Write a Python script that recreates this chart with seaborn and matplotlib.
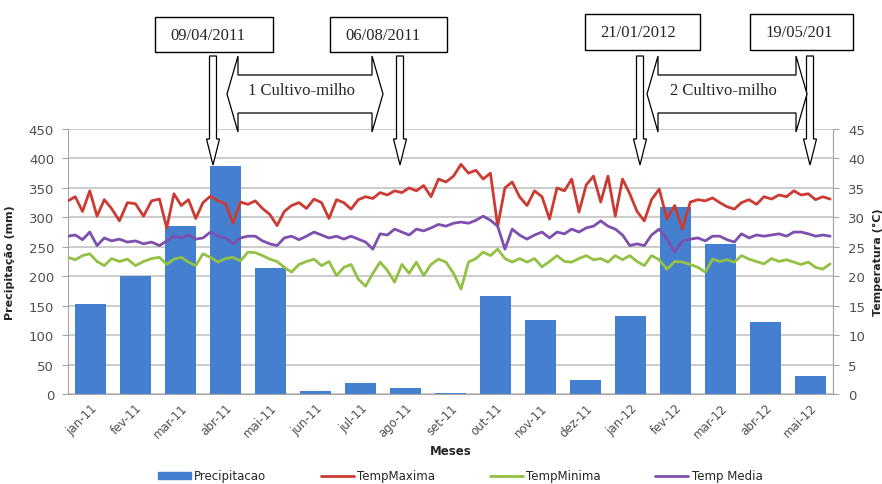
import numpy as np
import pandas as pd
import seaborn as sns
import matplotlib.pyplot as plt
from matplotlib.patches import Polygon, Rectangle, Patch
from matplotlib.lines import Line2D

# Precipitação mensal (mm)
meses = ['jan-11', 'fev-11', 'mar-11', 'abr-11', 'mai-11', 'jun-11', 'jul-11', 'ago-11',
         'set-11', 'out-11', 'nov-11', 'dez-11', 'jan-12', 'fev-12', 'mar-12', 'abr-12', 'mai-12']
precipitacao = [153, 201, 285, 387, 214, 5, 19, 11, 2, 167, 125, 24, 133, 317, 254, 122, 31]

# Temperaturas (°C), leituras a cada 5 dias a partir de 01/01/2011
temp_maxima = [32.8, 33.5, 31.0, 34.5, 30.2, 33.0, 31.5, 29.4, 32.5, 32.3,
               30.2, 32.8, 33.1, 28.2, 34.0, 32.0, 33.0, 29.8, 32.5, 33.6,
               32.8, 32.3, 29.0, 32.6, 32.2, 32.8, 31.5, 30.5, 28.6, 31.0,
               32.0, 32.5, 31.5, 33.1, 32.5, 29.8, 33.0, 32.5, 31.4, 33.0,
               33.5, 33.2, 34.2, 33.8, 34.5, 34.2, 35.0, 34.5, 35.4, 33.5,
               36.5, 36.0, 37.0, 39.0, 37.5, 38.0, 36.5, 37.5, 28.5, 35.0,
               36.0, 33.5, 32.0, 34.5, 33.5, 29.7, 35.0, 34.5, 36.5, 30.9,
               35.5, 37.0, 32.6, 37.0, 30.2, 36.5, 34.0, 31.0, 29.4, 33.0,
               34.8, 29.7, 32.0, 28.0, 32.6, 33.0, 32.8, 33.3, 32.5, 31.8,
               31.4, 32.5, 33.0, 32.2, 33.5, 33.1, 33.8, 33.5, 34.5, 33.8,
               34.0, 33.0, 33.5, 33.1]
temp_media = [26.8, 27.0, 26.2, 27.5, 25.2, 26.5, 26.0, 26.3, 25.8, 26.0,
              25.5, 25.8, 25.2, 26.0, 26.8, 26.5, 27.0, 26.3, 26.5, 27.5,
              26.8, 26.5, 25.5, 26.5, 26.8, 26.8, 26.0, 25.5, 25.2, 26.5,
              26.8, 26.2, 26.8, 27.5, 27.0, 26.5, 26.8, 26.3, 26.8, 26.3,
              25.8, 24.6, 27.2, 27.0, 28.0, 27.5, 27.0, 28.0, 27.7, 28.2,
              28.8, 28.5, 29.0, 29.2, 29.0, 29.5, 30.2, 29.5, 28.5, 24.6,
              28.0, 27.0, 26.3, 27.0, 27.5, 26.5, 27.5, 27.2, 28.0, 27.5,
              28.2, 28.5, 29.4, 28.5, 28.0, 27.0, 25.2, 25.5, 25.2, 27.0,
              28.0, 26.3, 24.1, 26.0, 26.3, 26.5, 26.0, 26.8, 26.8, 26.2,
              25.8, 27.2, 26.5, 27.0, 26.8, 27.0, 27.2, 26.8, 27.5, 27.5,
              27.2, 26.8, 27.0, 26.8]
temp_minima = [23.2, 22.8, 23.5, 23.8, 22.5, 21.8, 23.0, 22.5, 22.9, 21.8,
               22.5, 23.0, 23.2, 22.0, 22.9, 23.2, 22.4, 21.8, 23.8, 23.2,
               22.4, 23.0, 23.2, 22.6, 24.1, 24.0, 23.5, 22.9, 22.5, 21.5,
               20.7, 22.0, 22.5, 22.9, 21.8, 22.5, 20.1, 21.5, 22.0, 19.5,
               18.3, 20.5, 22.4, 21.0, 19.0, 22.0, 20.5, 22.4, 20.1, 22.0,
               22.9, 22.4, 20.5, 17.8, 22.4, 23.0, 24.1, 23.5, 24.6, 23.0,
               22.4, 23.0, 22.4, 23.0, 21.6, 22.5, 23.5, 22.5, 22.4, 23.0,
               23.5, 22.8, 23.0, 22.4, 23.5, 22.8, 23.5, 22.5, 21.8, 23.5,
               22.8, 21.2, 22.5, 22.4, 22.0, 21.5, 20.7, 22.9, 22.5, 22.8,
               22.4, 23.5, 22.9, 22.5, 22.1, 23.0, 22.5, 22.8, 22.4, 22.0,
               22.4, 21.5, 21.2, 22.1]

datas = pd.date_range('2011-01-01', periods=len(temp_maxima), freq='5D')
# posição da data no eixo dos meses (cada mês ocupa uma unidade)
pos = ((datas.year - 2011) * 12 + datas.month - 1
       + (datas.day - 1) / datas.days_in_month - 0.5).to_numpy()

cor_barra = '#4580d0'
cor_max = '#cc3b33'
cor_min = '#92c143'
cor_med = '#7d4fae'
cinza = '#a6a6a6'

sns.set_style('white')
plt.rcParams['font.family'] = ['DejaVu Sans']

W, H = 882, 485
fig = plt.figure(figsize=(W / 100, H / 100), dpi=100)
ax = fig.add_axes([68 / W, 1 - 395 / H, 765 / W, 265 / H])

sns.barplot(x=np.arange(len(meses)), y=precipitacao, native_scale=True, width=0.68,
            color=cor_barra, saturation=1, linewidth=0, ax=ax)

ax2 = ax.twinx()
for vals, cor in [(temp_maxima, cor_max), (temp_minima, cor_min), (temp_media, cor_med)]:
    sns.lineplot(x=pos, y=vals, ax=ax2, color=cor, lw=2.0, legend=False)

ax.set_xlim(-0.5, len(meses) - 0.5)
ax.set_ylim(0, 450)
ax.set_yticks(range(0, 451, 50))
ax2.set_ylim(0, 45)
ax2.set_yticks(range(0, 46, 5))
ax.set_xticks(np.arange(len(meses)))
ax.set_xticklabels(meses, rotation=45, ha='right', rotation_mode='anchor')

ax.yaxis.grid(True, color='#c4c4c4', lw=1.2)
ax.set_axisbelow(True)
ax2.grid(False)

for a in (ax, ax2):
    a.spines['top'].set_visible(False)
    for s in a.spines.values():
        s.set_color(cinza)
ax2.spines['left'].set_visible(False)
ax2.spines['bottom'].set_visible(False)

ax.tick_params(axis='y', length=4, color=cinza, pad=6, labelsize=9.5, labelcolor='#505050')
ax.tick_params(axis='x', length=0, pad=5, labelsize=8.5, labelcolor='#505050')
ax2.tick_params(axis='y', length=4, color=cinza, pad=7, labelsize=9.5, labelcolor='#505050')

ax.set_xlabel('Meses', fontsize=8.5, fontweight='bold')
ax.xaxis.set_label_coords(0.5, -0.19)
ax.set_ylabel('Precipitação (mm)', fontsize=8, fontweight='bold')
ax.yaxis.set_label_coords(-0.069, 0.5)
ax2.set_ylabel('Temperatura (°C)', fontsize=8, fontweight='bold')
ax2.yaxis.set_label_coords(1.052, 0.5)

handles = [Patch(color=cor_barra),
           Line2D([], [], color=cor_max, lw=2),
           Line2D([], [], color=cor_min, lw=2),
           Line2D([], [], color=cor_med, lw=2)]
fig.legend(handles, ['Precipitacao', 'TempMaxima', 'TempMinima', 'Temp Media'],
           loc='center', bbox_to_anchor=(460 / W, 1 - 477 / H), ncol=4, frameon=False,
           fontsize=8.5, handlelength=2.8, handleheight=0.5, handletextpad=0.3,
           columnspacing=4.6)


# anotações em pixels da figura (origem no topo)
def fp(x, y):
    return (x / W, 1 - y / H)


def forma(pts):
    fig.add_artist(Polygon([fp(x, y) for x, y in pts], closed=True,
                           transform=fig.transFigure, fc='white', ec='black', lw=0.9))


def caixa(x0, y0, x1, y1, texto):
    fig.add_artist(Rectangle(fp(x0, y1), (x1 - x0) / W, (y1 - y0) / H,
                             transform=fig.transFigure, fc='white', ec='black', lw=1))
    fig.text(*fp(x0 + 15, (y0 + y1) / 2), texto, ha='left', va='center',
             fontsize=12, family='Liberation Serif')


def seta_baixo(xc, y0=57, y1=140, y2=166):
    forma([(xc - 3.5, y0), (xc + 3.5, y0), (xc + 3.5, y1), (xc + 6.5, y1),
           (xc, y2), (xc - 6.5, y1), (xc - 3.5, y1)])


def seta_dupla(x0, x1, texto, yc=95, h=38, s=19, c=11):
    forma([(x0, yc), (x0 + c, yc - h), (x0 + c, yc - s), (x1 - c, yc - s),
           (x1 - c, yc - h), (x1, yc), (x1 - c, yc + h), (x1 - c, yc + s),
           (x0 + c, yc + s), (x0 + c, yc + h)])
    fig.text(*fp((x0 + x1) / 2 - 4, yc - 4), texto, ha='center', va='center',
             fontsize=12, family='Liberation Serif')


caixa(155, 18, 273, 53, '09/04/2011')
caixa(330, 18, 447, 53, '06/08/2011')
caixa(585, 15, 700, 51, '21/01/2012')
caixa(750, 15, 853, 51, '19/05/201')
for xc in (213, 400, 640, 810):
    seta_baixo(xc)
seta_dupla(227, 383, '1 Cultivo-milho')
seta_dupla(647, 807, '2 Cultivo-milho')

fig.savefig('out.png', dpi=100)
